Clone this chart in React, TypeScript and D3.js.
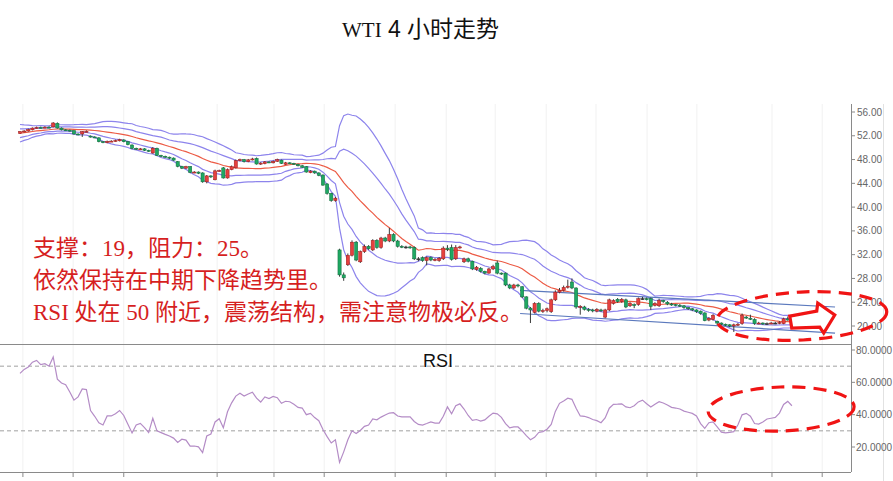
import React from "react";
import * as d3 from "d3";

// [open, high, low, close] per 4h candle
const ohlc: [number, number, number, number][] = [
  [52.4, 52.8, 52.3, 52.7], [52.7, 52.95, 52.6, 52.8], [52.8, 53.2, 52.7, 53.05], [53.0, 53.4, 52.9, 53.3],
  [53.3, 53.55, 53.2, 53.4], [53.4, 53.55, 53.25, 53.35], [53.35, 53.6, 53.3, 53.45], [53.45, 53.6, 53.3, 53.4],
  [53.5, 54.3, 53.4, 54.15], [54.1, 54.25, 53.2, 53.3], [53.3, 53.4, 52.9, 53.0], [53.0, 53.1, 52.8, 52.95],
  [52.95, 53.05, 52.7, 52.85], [52.85, 52.95, 52.2, 52.3], [52.3, 52.4, 52.1, 52.25], [52.3, 52.8, 51.8, 52.7],
  [52.7, 52.9, 52.6, 52.75], [51.95, 52.05, 51.7, 51.8], [51.8, 51.9, 51.6, 51.7], [51.65, 51.75, 50.9, 51.0],
  [51.0, 51.1, 50.75, 50.85], [50.85, 51.2, 50.75, 51.05], [51.05, 51.25, 50.95, 51.1], [51.1, 51.35, 51.0, 51.2],
  [51.15, 51.5, 51.05, 51.35], [51.3, 51.4, 50.9, 51.0], [51.0, 51.1, 50.4, 50.5], [50.45, 50.55, 49.75, 49.9],
  [49.9, 50.0, 49.6, 49.75], [49.75, 49.95, 49.65, 49.8], [49.8, 49.9, 49.45, 49.55], [49.55, 49.65, 49.3, 49.45],
  [49.1, 50.1, 49.0, 49.9], [49.9, 50.0, 48.6, 48.7], [48.7, 48.8, 48.4, 48.55], [48.55, 48.65, 48.3, 48.4],
  [48.4, 48.5, 48.1, 48.25], [48.25, 48.35, 47.8, 47.9], [47.65, 47.75, 46.7, 46.85], [46.85, 46.95, 46.4, 46.55],
  [46.55, 46.95, 46.45, 46.8], [46.8, 46.9, 45.7, 45.85], [45.85, 46.05, 45.7, 45.9], [45.9, 46.0, 45.55, 45.7],
  [45.75, 45.85, 44.1, 44.25], [44.25, 45.4, 44.0, 45.25], [45.25, 45.35, 44.9, 45.1], [44.6, 46.3, 44.5, 46.1],
  [46.1, 46.3, 45.95, 46.15], [46.6, 46.75, 44.8, 44.9], [44.9, 46.5, 44.8, 46.3], [46.3, 47.0, 46.2, 46.8],
  [46.6, 48.0, 46.5, 47.8], [47.8, 48.15, 47.7, 48.0], [48.0, 48.1, 47.5, 47.65], [47.65, 48.1, 47.55, 47.95],
  [47.95, 48.3, 47.85, 48.1], [48.2, 48.35, 47.15, 47.25], [47.25, 47.55, 47.1, 47.4], [47.3, 47.75, 47.2, 47.6],
  [47.6, 47.7, 47.4, 47.55], [47.45, 47.85, 47.35, 47.7], [47.7, 48.15, 47.6, 48.0], [47.9, 48.0, 47.25, 47.35],
  [47.2, 47.6, 47.1, 47.45], [47.45, 47.55, 47.25, 47.35], [47.35, 47.45, 47.1, 47.2], [47.2, 47.3, 46.85, 46.95],
  [46.95, 47.1, 46.6, 46.7], [46.8, 46.9, 45.8, 45.9], [45.8, 46.2, 45.7, 46.05], [46.05, 46.15, 45.6, 45.75],
  [45.75, 45.85, 45.2, 45.35], [45.4, 45.5, 43.6, 43.7], [43.9, 44.0, 42.1, 42.3], [42.3, 42.4, 40.9, 41.1],
  [41.1, 41.7, 40.9, 41.5], [32.8, 33.0, 28.3, 28.6], [28.6, 29.0, 27.6, 28.1], [30.3, 32.2, 30.1, 31.9],
  [31.9, 34.4, 31.7, 34.1], [34.1, 34.3, 30.9, 31.1], [30.8, 32.7, 30.6, 32.5], [32.5, 33.7, 32.3, 33.4],
  [33.4, 33.6, 32.8, 33.0], [32.8, 34.6, 32.6, 34.4], [34.4, 34.6, 33.0, 33.2], [33.2, 35.0, 33.0, 34.8],
  [34.8, 35.0, 34.1, 34.3], [34.3, 36.5, 34.1, 35.4], [35.4, 35.6, 34.1, 34.3], [34.3, 34.5, 33.2, 33.4],
  [33.4, 33.6, 33.1, 33.3], [33.3, 33.5, 33.0, 33.3], [33.3, 33.5, 33.0, 33.2], [33.2, 33.4, 31.1, 31.3],
  [31.3, 31.6, 30.9, 31.3], [31.5, 31.7, 30.8, 31.0], [31.0, 31.7, 30.2, 31.5], [31.5, 31.7, 30.9, 31.1],
  [31.1, 31.4, 30.9, 31.2], [31.0, 31.6, 30.8, 31.4], [31.3, 33.4, 31.1, 33.1], [33.1, 33.6, 32.6, 32.9],
  [33.2, 33.7, 31.0, 31.2], [31.3, 33.6, 31.1, 33.2], [33.2, 33.5, 33.0, 33.3], [30.8, 31.5, 30.6, 31.3],
  [31.3, 31.5, 30.7, 30.9], [30.9, 31.0, 29.4, 29.6], [29.5, 30.1, 29.3, 29.9], [29.7, 29.9, 29.0, 29.2],
  [29.2, 29.3, 28.7, 28.9], [28.9, 29.8, 28.8, 29.6], [29.6, 30.3, 29.4, 30.0], [30.6, 31.0, 28.7, 28.9],
  [28.9, 29.0, 28.6, 28.8], [28.9, 29.0, 26.7, 26.9], [26.9, 27.1, 26.2, 26.4], [26.4, 27.1, 26.2, 26.9],
  [26.9, 27.1, 26.5, 26.8], [26.6, 26.7, 24.7, 24.9], [24.9, 25.0, 22.8, 23.0], [23.0, 23.2, 20.5, 22.7],
  [22.3, 24.0, 22.1, 23.8], [23.8, 24.0, 22.3, 22.5], [22.5, 22.9, 22.2, 22.6], [22.6, 23.1, 22.3, 22.9],
  [22.4, 24.6, 22.2, 24.4], [24.4, 26.0, 24.2, 25.7], [25.7, 26.4, 25.5, 26.0], [26.0, 26.8, 25.8, 26.5],
  [26.5, 27.8, 26.3, 26.7], [27.4, 28.0, 26.2, 26.4], [26.4, 26.5, 22.9, 23.2], [23.2, 23.5, 21.9, 23.3],
  [23.2, 23.4, 22.6, 22.8], [22.8, 23.0, 22.4, 22.7], [22.7, 22.9, 22.3, 22.6], [22.5, 23.0, 22.3, 22.8],
  [22.7, 22.9, 22.4, 22.6], [21.5, 22.9, 21.3, 22.7], [22.7, 24.6, 22.5, 24.4], [23.8, 24.5, 23.6, 24.3],
  [24.5, 24.7, 23.9, 24.1], [24.1, 24.7, 23.9, 24.5], [24.4, 24.6, 23.0, 23.2], [23.4, 24.0, 23.2, 23.8],
  [23.6, 23.8, 23.0, 23.5], [23.6, 24.8, 23.4, 24.6], [24.6, 24.9, 24.4, 24.6], [24.6, 24.8, 24.3, 24.5],
  [24.6, 24.8, 22.7, 23.3], [23.5, 24.0, 23.3, 23.8], [23.4, 24.6, 23.2, 24.3], [24.3, 24.4, 23.9, 24.1],
  [24.0, 24.2, 23.5, 23.7], [23.7, 23.9, 23.4, 23.6], [23.6, 23.7, 23.3, 23.5], [23.5, 23.7, 23.2, 23.4],
  [23.4, 23.5, 22.9, 23.1], [23.1, 23.2, 22.7, 22.9], [22.9, 23.0, 22.5, 22.7], [22.7, 22.8, 22.2, 22.4],
  [22.5, 22.6, 21.9, 22.1], [22.2, 22.3, 20.8, 20.9], [21.0, 21.5, 20.8, 21.3], [21.1, 22.0, 20.9, 21.8],
  [20.8, 20.9, 20.2, 20.5], [20.5, 20.6, 20.1, 20.3], [20.3, 20.4, 20.0, 20.2], [20.2, 20.3, 19.8, 20.0],
  [20.0, 20.4, 19.0, 20.2], [20.2, 20.5, 20.0, 20.3], [20.4, 22.1, 20.2, 21.8], [21.5, 21.7, 21.2, 21.4],
  [21.3, 21.9, 21.0, 21.2], [21.1, 21.3, 20.2, 20.4], [20.4, 20.7, 20.3, 20.5], [20.5, 20.6, 20.2, 20.4],
  [20.4, 20.6, 20.2, 20.4], [20.4, 20.7, 20.3, 20.5], [20.5, 20.7, 20.3, 20.5], [20.5, 20.8, 20.3, 20.6],
  [20.4, 21.4, 20.3, 21.2], [21.2, 21.6, 20.9, 21.0], [21.0, 21.3, 20.7, 20.9],
];

// closes of the 19 candles before the visible window (band warm-up)
const warmupCloses: number[] = [
  50.9, 51.3, 51.0, 51.6, 52.0, 51.8, 52.3, 52.6, 52.4, 52.9, 53.2, 53.0, 53.4, 53.1, 52.8, 53.3, 53.0, 52.7, 52.5,
];

const rsiValues: number[] = [
  65.5, 68, 69.5, 72.5, 73.6, 71, 71.5, 70, 75.7, 62, 59.6, 58.5, 54, 49, 51, 55.9, 55.5, 42.5, 39, 35,
  33.6, 39.2, 39.2, 40.6, 42.6, 39.5, 34, 28.7, 33.6, 34.6, 32, 28.9, 37.7, 30, 28.9, 27.8, 26.8, 25.5, 22.8, 24.8,
  24.3, 20.6, 20.6, 20.1, 16.5, 26.8, 28, 35.5, 37.5, 31.9, 41.8, 47.3, 51.5, 53.2, 51.5, 52.8, 53.9, 50.2, 47.8, 51,
  50, 51.3, 50.5, 47, 48.3, 48, 46.4, 44.5, 44.1, 40, 40.8, 38.2, 36.3, 30.8, 26.4, 22.5, 24.5, 10.5, 17, 24.5,
  30, 28.4, 30.2, 32.8, 33.6, 37.3, 36.8, 38.5, 39.8, 41, 41.2, 39.2, 38.6, 38.6, 38.6, 35.8, 34, 33.6, 34.5, 35.5,
  34.8, 34.8, 39, 44.8, 40.5, 45.5, 46.7, 43.5, 39.5, 36.5, 37, 36, 36.8, 39, 41, 40.5, 38.3, 34.5, 31.8, 32.4,
  32.4, 30, 27, 24.5, 26, 29, 29.5, 31, 34, 42, 47, 48.5, 50.2, 49.5, 44, 39.2, 39, 38.2, 37, 36.3,
  35, 38, 44, 46.4, 46.5, 46.7, 44.8, 44.3, 45.5, 47.9, 49, 46.8, 44.7, 46.5, 48, 47.2, 46, 44.5, 44.1, 43.5,
  42.2, 41.5, 40.8, 39.2, 34.5, 31.5, 35, 35.5, 32.5, 29.2, 28.8, 29, 29.5, 33.8, 39.9, 40.8, 39, 34.5, 34.2, 35.5,
  37.3, 37.8, 38.3, 41, 46.3, 48.2, 45.5,
];

const priceTicks = [56, 52, 48, 44, 40, 36, 32, 28, 24, 20];
const rsiTicks = [80, 60, 40, 20];
const rsiLevels = [70, 30];
const timeTicks = [0.7, 12.8, 25, 47.5, 61.2, 73.3, 90.4, 102.7, 114.5, 126.8, 138.8, 151.1, 163.1, 181.2, 193.3];
// trend channel: [startIndex, startPrice, endIndex, endPrice]
const trendLines: [number, number, number, number][] = [
  [120.5, 26.0, 196.4, 23.2],
  [120.5, 22.1, 196.4, 18.8],
];
const notes = ["支撑：19，阻力：25。", "依然保持在中期下降趋势里。", "RSI 处在 50 附近，震荡结构，需注意物极必反。"];

const W = 893;
const H = 481;
const AXIS_X = 851;
const MAIN_TOP = 104;
const MAIN_BOTTOM = 344;
const RSI_BOTTOM = 472;

export default function App() {
  const n = ohlc.length;
  const x = d3.scaleLinear().domain([0, n - 1]).range([20, 20 + (n - 1) * 4.15]);
  const y = d3.scaleLinear().domain([20, 56]).range([326, 112]);
  const yr = d3.scaleLinear().domain([20, 80]).range([447, 350]);

  const closes = ohlc.map((d) => d[3]);
  const series = warmupCloses.concat(closes);
  const period = 20;
  const bands = closes.map((_, i) => {
    const j = i + warmupCloses.length;
    const win = series.slice(j - period + 1, j + 1);
    const m = d3.mean(win) as number;
    const sd = Math.sqrt(d3.mean(win, (v) => (v - m) * (v - m)) as number);
    return { i, m, sd };
  });
  const bandLine = (k: number) =>
    d3
      .line<{ i: number; m: number; sd: number }>()
      .x((d) => x(d.i))
      .y((d) => y(d.m + k * d.sd))(bands) as string;

  const rsiLine = d3
    .line<number>()
    .x((_, i) => x(i))
    .y((d) => yr(d))(rsiValues) as string;

  const up = "#e5403e";
  const upStroke = "#9c1c1c";
  const down = "#1fa862";
  const downStroke = "#0f6a3c";

  // annotation anchors in data space
  const ex = x(188.4);
  const ey = y(21.68);
  const rex = x(183.4);
  const rey = yr(43.5);
  const ax = x(185);
  const ay = y(21);
  const arrowPts = [
    [2, -4], [29, -9], [30, -17], [47, -5], [36, 13], [32, 7], [4, 8],
  ]
    .map(([dx, dy]) => `${ax + dx},${ay + dy}`)
    .join(" ");

  const cjk = "'Liberation Serif', 'Noto Sans CJK SC', serif";

  return (
    <svg
      width={W}
      height={H}
      style={{ position: "absolute", left: 0, top: 0, background: "#fff" }}
      fontFamily="'Liberation Sans', Arial, sans-serif"
    >
      <rect x={0} y={0} width={W} height={H} fill="#fff" />
      <defs>
        <clipPath id="mainClip">
          <rect x={0} y={MAIN_TOP} width={AXIS_X} height={MAIN_BOTTOM - MAIN_TOP} />
        </clipPath>
        <clipPath id="rsiClip">
          <rect x={0} y={MAIN_BOTTOM} width={AXIS_X} height={RSI_BOTTOM - MAIN_BOTTOM} />
        </clipPath>
      </defs>

      {/* title */}
      <text y={37} fill="#111" fontSize={23}>
        <tspan x={342} fontFamily="'Liberation Serif', serif" fontSize={21}>WTI</tspan>
        <tspan x={388} fontFamily="'Liberation Sans', sans-serif">4</tspan>
        <tspan x={407} fontFamily="'Noto Sans CJK SC', sans-serif">小时走势</tspan>
      </text>

      {/* faint vertical grid */}
      {timeTicks.map((t, i) => (
        <line key={"g" + i} x1={x(t)} x2={x(t)} y1={MAIN_TOP} y2={RSI_BOTTOM} stroke="#f1f1f1" strokeWidth={1} />
      ))}
      <line x1={883.5} x2={883.5} y1={MAIN_TOP} y2={H} stroke="#e2e2e2" />

      {/* main panel */}
      <g clipPath="url(#mainClip)">
        <path d={bandLine(2)} fill="none" stroke="#8d84ec" strokeWidth={1.2} />
        <path d={bandLine(1)} fill="none" stroke="#8d84ec" strokeWidth={1.2} />
        <path d={bandLine(-1)} fill="none" stroke="#8d84ec" strokeWidth={1.2} />
        <path d={bandLine(-2)} fill="none" stroke="#8d84ec" strokeWidth={1.2} />
        <path d={bandLine(0)} fill="none" stroke="#ec5b45" strokeWidth={1.2} />
        {trendLines.map(([i0, p0, i1, p1], k) => (
          <line key={"t" + k} x1={x(i0)} y1={y(p0)} x2={x(i1)} y2={y(p1)} stroke="#5b79bd" strokeWidth={1.2} />
        ))}
        {ohlc.map(([o, h, l, c], i) => {
          const cx = x(i);
          const isUp = c > o;
          const top = y(Math.max(o, c));
          const bh = Math.max(1, y(Math.min(o, c)) - top);
          return (
            <g key={"c" + i}>
              <line x1={cx} x2={cx} y1={y(h)} y2={y(l)} stroke="#3a3a3a" strokeWidth={1} />
              <rect
                x={cx - 1.6}
                y={top}
                width={3.2}
                height={bh}
                fill={c === o ? "#333" : isUp ? up : down}
                stroke={c === o ? "#333" : isUp ? upStroke : downStroke}
                strokeWidth={0.5}
              />
            </g>
          );
        })}
      </g>

      {/* price axis */}
      <line x1={AXIS_X + 0.5} x2={AXIS_X + 0.5} y1={MAIN_TOP} y2={RSI_BOTTOM} stroke="#8a8a8a" />
      {priceTicks.map((p) => (
        <g key={"p" + p}>
          <line x1={AXIS_X} x2={AXIS_X + 4} y1={y(p)} y2={y(p)} stroke="#8a8a8a" />
          <text x={AXIS_X + 6} y={y(p)} dy="0.35em" fontSize={10} fill="#666">
            {p.toFixed(2)}
          </text>
        </g>
      ))}

      {/* panel separators */}
      <line x1={0} x2={AXIS_X} y1={MAIN_BOTTOM + 0.5} y2={MAIN_BOTTOM + 0.5} stroke="#8a8a8a" />
      <line x1={0} x2={AXIS_X} y1={RSI_BOTTOM + 0.5} y2={RSI_BOTTOM + 0.5} stroke="#8a8a8a" />
      {timeTicks.map((t, i) => (
        <line key={"tt" + i} x1={x(t)} x2={x(t)} y1={RSI_BOTTOM} y2={RSI_BOTTOM + 5} stroke="#8a8a8a" />
      ))}

      {/* RSI panel */}
      {rsiLevels.map((v) => (
        <line key={"l" + v} x1={0} x2={AXIS_X} y1={yr(v)} y2={yr(v)} stroke="#a0a0a0" strokeDasharray="4 3" />
      ))}
      <g clipPath="url(#rsiClip)">
        <path d={rsiLine} fill="none" stroke="#b48cc6" strokeWidth={1.2} />
      </g>
      {rsiTicks.map((v) => (
        <g key={"r" + v}>
          <line x1={AXIS_X} x2={AXIS_X + 4} y1={yr(v)} y2={yr(v)} stroke="#8a8a8a" />
          <text x={AXIS_X + 5} y={yr(v)} dy="0.35em" fontSize={10} fill="#666">
            {v.toFixed(4)}
          </text>
        </g>
      ))}
      <text x={423} y={367} fontSize={18} fill="#111">RSI</text>

      {/* notes */}
      {notes.map((t, i) => (
        <text key={"n" + i} x={33} y={256 + i * 32} fontSize={23} fill="#d61f1f" fontFamily={cjk}>
          {t}
        </text>
      ))}

      {/* annotations */}
      <ellipse
        cx={ex}
        cy={ey}
        rx={85}
        ry={24}
        fill="none"
        stroke="#f01414"
        strokeWidth={3.2}
        strokeDasharray="13 8"
        transform={`rotate(-3 ${ex} ${ey})`}
      />
      <polygon points={arrowPts} fill="#fff" stroke="#f01414" strokeWidth={3.2} strokeLinejoin="miter" />
      <ellipse
        cx={rex}
        cy={rey}
        rx={73}
        ry={22}
        fill="none"
        stroke="#f01414"
        strokeWidth={3.2}
        strokeDasharray="13 8"
        transform={`rotate(-2 ${rex} ${rey})`}
      />
    </svg>
  );
}
